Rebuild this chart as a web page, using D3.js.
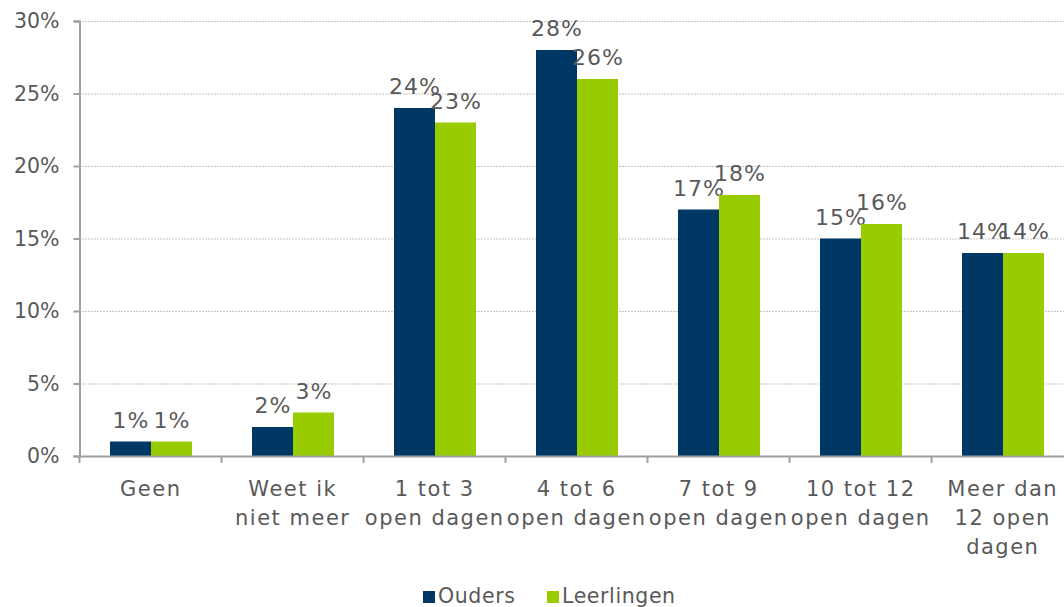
<!DOCTYPE html>
<html><head><meta charset="utf-8">
<script src="https://cdn.jsdelivr.net/npm/d3@7"></script>
<style>body{margin:0;background:#fff;overflow:hidden}svg{display:block}</style>
</head><body><svg id="c" width="1064" height="607"></svg>
<script>
const categories = [["Geen"],["Weet ik","niet meer"],["1 tot 3","open dagen"],["4 tot 6","open dagen"],["7 tot 9","open dagen"],["10 tot 12","open dagen"],["Meer dan","12 open","dagen"]];
const seriesNames = ["Ouders","Leerlingen"];
const ouders = [1,2,24,28,17,15,14];
const leerlingen = [1,3,23,26,18,16,14];
const yTicks = [0,5,10,15,20,25,30];
(function(){
const colors = ["#003865","#99cc00"];
const txt = "#595959", font = "DejaVu Sans, Verdana, sans-serif";

const svg = d3.select("#c");
const mLeft = 79, mRight = 1073, mTop = 21, mBottom = 456;
const x = d3.scaleBand().domain(d3.range(categories.length)).range([mLeft,mRight]).paddingInner(0).paddingOuter(0);
const y = d3.scaleLinear().domain([0,30]).range([mBottom,mTop]);
const inner = d3.scaleBand().domain([0,1]).range([31, 31+82]);

// gridlines
svg.append("g").selectAll("line").data(yTicks.filter(d=>d>0)).join("line")
  .attr("x1",mLeft).attr("x2",1064).attr("y1",d=>y(d)+0.5).attr("y2",d=>y(d)+0.5)
  .attr("stroke","#c4c4c4").attr("stroke-dasharray","2,1").attr("stroke-width",1);

// bars
const data = [ouders, leerlingen];
const g = svg.append("g");
data.forEach((vals,si)=>{
  g.selectAll(null).data(vals).join("rect")
    .attr("x",(d,i)=>x(i)+inner(si)).attr("width",inner.bandwidth())
    .attr("y",d=>y(d)).attr("height",d=>mBottom-y(d)).attr("fill",colors[si]);
  g.selectAll(null).data(vals).join("text")
    .attr("x",(d,i)=>x(i)+inner(si)+inner.bandwidth()/2+0.5).attr("y",d=>y(d)-14)
    .attr("text-anchor","middle").attr("font-family",font).attr("font-size",22)
    .attr("letter-spacing",1).attr("fill",txt)
    .text(d=>d+"%");
});

// y axis
const ya = svg.append("g").attr("transform",`translate(${mLeft+0.5},0)`)
  .call(d3.axisLeft(y).tickValues(yTicks).tickFormat(d=>d+"%").tickSize(6).tickPadding(14));
ya.select(".domain").attr("stroke","#a0a0a0").attr("stroke-width",2);
ya.selectAll(".tick line").attr("stroke","#a0a0a0").attr("stroke-width",2);
ya.selectAll("text").attr("font-family",font).attr("font-size",20.5).attr("fill",txt);

// x axis
svg.append("line").attr("x1",mLeft).attr("x2",1064).attr("y1",mBottom+0.5).attr("y2",mBottom+0.5).attr("stroke","#a0a0a0").attr("stroke-width",2);
svg.append("g").selectAll("line").data(d3.range(categories.length)).join("line")
  .attr("x1",i=>x(i)+0.5).attr("x2",i=>x(i)+0.5).attr("y1",mBottom).attr("y2",mBottom+7)
  .attr("stroke","#a0a0a0").attr("stroke-width",2);
const xl = svg.append("g").selectAll("text").data(categories).join("text")
  .attr("text-anchor","middle").attr("font-family",font).attr("font-size",21)
  .attr("letter-spacing",1.5).attr("fill",txt)
  .attr("transform",(d,i)=>`translate(${x(i)+x.bandwidth()/2+0.75},496)`);
xl.selectAll("tspan").data(d=>d).join("tspan").attr("x",0).attr("y",(d,j)=>j*29).text(d=>d);

// legend
const leg = svg.append("g");
const lx = [423, 547];
seriesNames.forEach((n,i)=>{
  leg.append("rect").attr("x",lx[i]).attr("y",591).attr("width",12).attr("height",12).attr("fill",colors[i]);
  leg.append("text").attr("x",lx[i]+15).attr("y",603).attr("font-family",font).attr("font-size",20.5)
    .attr("letter-spacing",0.6).attr("fill",txt).text(n);
});
})();
</script></body></html>
